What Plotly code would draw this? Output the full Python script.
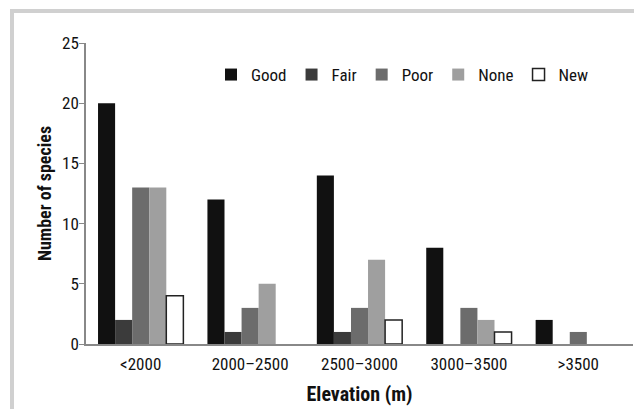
import plotly.graph_objects as go

categories = ["<2000", "2000\u20132500", "2500\u20133000", "3000\u20133500", ">3500"]
good = [20, 12, 14, 8, 2]
fair = [2, 1, 1, 0, 0]
poor = [13, 3, 3, 3, 1]
none_ = [13, 5, 7, 2, 0]
new = [4, 0, 2, 1, 0]

series = [
    ("Good", good, "#111111", "#111111"),
    ("Fair", fair, "#3b3b3b", "#3b3b3b"),
    ("Poor", poor, "#6c6c6c", "#6c6c6c"),
    ("None", none_, "#9f9f9f", "#9f9f9f"),
    ("New", new, "#ffffff", "#222222"),
]

FONT = "Liberation Sans Narrow, Arial Narrow, Roboto Condensed, sans-serif"

# plot area (in figure coords)
L, T, R, B = 78, 35, 625, 336
W, H = R - L, B - T

fig = go.Figure()
for name, vals, fill, line in series:
    widths = [(1.5 if name == "New" else 0) if v > 0 else 0 for v in vals]
    fig.add_trace(go.Bar(
        name=name, x=categories, y=vals,
        marker=dict(color=fill, line=dict(color=line, width=widths)),
    ))

fig.update_layout(
    width=642, height=409,
    margin=dict(l=L, r=642 - R, t=T, b=409 - B),
    paper_bgcolor="white", plot_bgcolor="white",
    barmode="group", bargap=0.22, bargroupgap=0,
    font=dict(family=FONT, size=17, color="#111111"),
    showlegend=True,
    legend=dict(orientation="h", x=(203 - L) / W, y=(B - 67) / H, xanchor="left", yanchor="middle",
                font=dict(family=FONT, size=17), itemwidth=30, bgcolor="rgba(0,0,0,0)",
                traceorder="normal"),
    xaxis=dict(showline=True, linecolor="#888888", linewidth=1.5, ticks="",
               tickfont=dict(family=FONT, size=17), ticklabelstandoff=4,
               title=dict(text="<b>Elevation (m)</b>", font=dict(family=FONT, size=20), standoff=14)),
    yaxis=dict(range=[0, 25], tickvals=[0, 5, 10, 15, 20, 25], showline=True,
               linecolor="#888888", linewidth=1.5, ticks="outside", ticklen=5,
               tickcolor="#888888", showgrid=False, zeroline=False,
               tickfont=dict(family=FONT, size=17), ticklabelstandoff=-3,
               title=dict(text="<b>Number of species</b>", font=dict(family=FONT, size=18), standoff=6)),
    shapes=[dict(type="rect", xref="paper", yref="paper",
                 x0=(4 - L) / W, x1=(633 - L) / W,
                 y0=(B - 430) / H, y1=(B - 3) / H,
                 line=dict(color="#d0d0d0", width=4), layer="below")],
)

fig.write_html("out.html")
